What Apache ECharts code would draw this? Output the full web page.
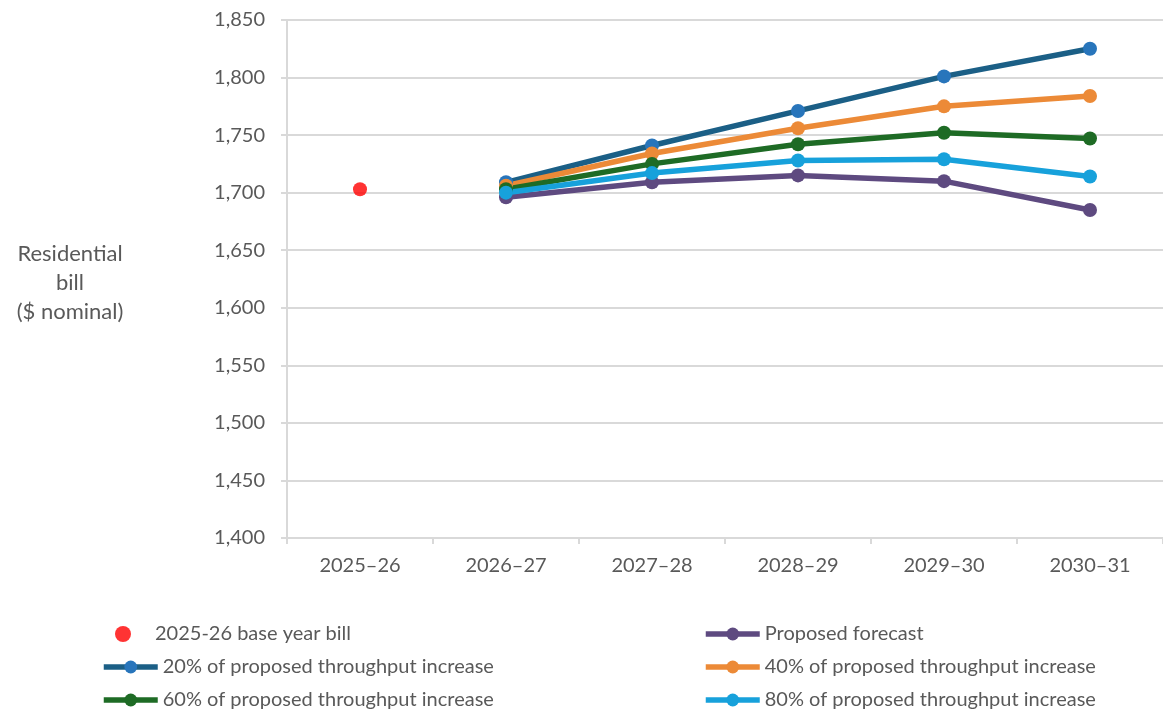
<!DOCTYPE html>
<html>
<head>
<meta charset="utf-8">
<script src="https://cdn.jsdelivr.net/npm/echarts@6/dist/echarts.min.js"></script>
<style>
  html, body { margin: 0; padding: 0; background: #ffffff; }
  #chart { width: 1163px; height: 713px; }
</style>
</head>
<body>
<div id="chart"></div>
<script>
// Financial years on the category axis
const years = ['2025–26', '2026–27', '2027–28', '2028–29', '2029–30', '2030–31'];

// Residential bill, $ nominal
const baseYearBill = [1703, null, null, null, null, null];
const proposedForecast = [null, 1696, 1709, 1715, 1710, 1685];
const pct20 = [null, 1709, 1741, 1771, 1801, 1825];
const pct40 = [null, 1706, 1734, 1756, 1775, 1784];
const pct60 = [null, 1703, 1725, 1742, 1752, 1747];
const pct80 = [null, 1700, 1717, 1728, 1729, 1714];

const yTicks = { min: 1400, max: 1850, interval: 50 };

const FONT = 'Lato';
const TEXT = '#595959';
const GRID = '#d9d9d9';

function lineSeries(name, data, lineColor, dotColor) {
  return {
    name: name,
    type: 'line',
    data: data,
    symbol: 'circle',
    symbolSize: 14,
    connectNulls: false,
    lineStyle: { color: lineColor, width: 5.5 },
    itemStyle: { color: dotColor },
    emphasis: { disabled: true },
    animation: false
  };
}

// One legend block per entry, laid out in two columns of three rows
function legendItem(name, left, top, opts) {
  return Object.assign({
    data: [name],
    left: left,
    top: top,
    orient: 'horizontal',
    itemWidth: 54,
    itemHeight: 16,
    lineStyle: { width: 5.5 },
    textStyle: { color: TEXT, fontSize: 20, fontFamily: FONT, lineHeight: 22 },
    selectedMode: false
  }, opts || {});
}

const chart = echarts.init(document.getElementById('chart'), null, { renderer: 'canvas' });

chart.setOption({
  backgroundColor: '#ffffff',
  animation: false,
  textStyle: { fontFamily: FONT },
  grid: { left: 287, right: -4, top: 20, bottom: 175, containLabel: false },
  xAxis: {
    type: 'category',
    data: years,
    boundaryGap: true,
    axisLine: { lineStyle: { color: GRID, width: 2 } },
    axisTick: { show: true, alignWithLabel: false, length: 6, lineStyle: { color: GRID, width: 2 } },
    axisLabel: { color: TEXT, fontSize: 20, fontFamily: FONT, margin: 18 },
    splitLine: { show: false }
  },
  yAxis: {
    type: 'value',
    min: yTicks.min,
    max: yTicks.max,
    interval: yTicks.interval,
    axisLine: { show: true, lineStyle: { color: GRID, width: 2 } },
    axisTick: { show: true, length: 6, lineStyle: { color: GRID, width: 2 } },
    axisLabel: {
      color: TEXT, fontSize: 20, fontFamily: FONT, margin: 22,
      formatter: v => v.toLocaleString('en-US')
    },
    splitLine: { show: true, lineStyle: { color: GRID, width: 2 } }
  },
  graphic: [{
    type: 'text',
    x: 70,
    y: 239,
    style: {
      text: 'Residential\nbill\n($ nominal)',
      align: 'center',
      verticalAlign: 'top',
      fill: TEXT,
      font: '22px ' + FONT,
      lineHeight: 29
    }
  }],
  legend: [
    legendItem('2025-26 base year bill', 110, 618),
    legendItem('20% of proposed throughput increase', 96, 651),
    legendItem('60% of proposed throughput increase', 96, 684),
    legendItem('Proposed forecast', 698, 618),
    legendItem('40% of proposed throughput increase', 698, 651),
    legendItem('80% of proposed throughput increase', 698, 684)
  ],
  series: [
    {
      name: '2025-26 base year bill',
      type: 'scatter',
      data: baseYearBill,
      symbol: 'circle',
      symbolSize: 14,
      itemStyle: { color: '#ff0000' },
      emphasis: { disabled: true }
    },
    lineSeries('Proposed forecast', proposedForecast, '#5e4a80', '#5e4a80'),
    lineSeries('20% of proposed throughput increase', pct20, '#1b5f86', '#2875bb'),
    lineSeries('40% of proposed throughput increase', pct40, '#ec8a37', '#ec8a37'),
    lineSeries('60% of proposed throughput increase', pct60, '#1e6b25', '#1e6b25'),
    lineSeries('80% of proposed throughput increase', pct80, '#17a1db', '#17a1db')
  ]
});
</script>
</body>
</html>
